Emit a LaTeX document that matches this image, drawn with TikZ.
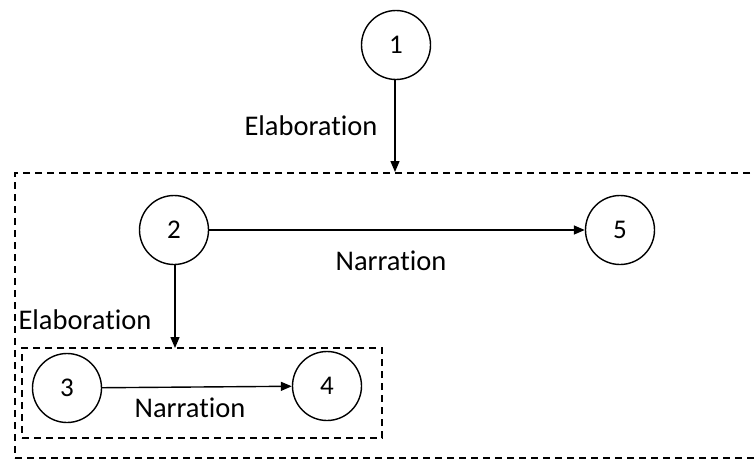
\documentclass[tikz,border=0pt]{standalone}
\usepackage{fontspec}
\setmainfont[Ligatures=NoCommon]{Carlito}
\usetikzlibrary{arrows.meta}
\tikzset{
  num/.style={draw, circle, line width=1.4pt, minimum size=69pt, inner sep=0pt, font=\fontsize{27}{30}\selectfont},
  lbl/.style={font=\fontsize{28.5}{32}\selectfont, inner sep=0pt},
  arr/.style={line width=1.4pt, -{Triangle[length=11pt,width=9pt]}},
  box/.style={draw, dashed, dash pattern=on 7pt off 5pt, line width=1.6pt, inner sep=0pt}
}
\begin{document}
\begin{tikzpicture}[x=1pt,y=-1pt]
\useasboundingbox (0,0) rectangle (755,460);
\clip (0,0) rectangle (755,460);
\node[box, minimum width=765pt, minimum height=285pt] (outer) at (397.5,315.5) {};
\node[box, minimum width=360pt, minimum height=90pt] (inner) at (202,393) {};
\node[num] (n1) at (396,45) {1};
\node[num] (n2) at (174,230) {2};
\node[num] (n5) at (620,230) {5};
\node[num] (n3) at (67,388) {3};
\node[num] (n4) at (327,386) {4};
\draw[arr] (n1.south -| 395,0) -- (395,172);
\draw[arr] (n2) -- (n5);
\draw[arr] (n2.south -| 175,0) -- (175,348);
\draw[arr] (n3) -- (n4);
\node[lbl] (e1) at (311,126) {Elaboration};
\node[lbl] (r1) at (391,261) {Narration};
\node[lbl] (e2) at (85,320) {Elaboration};
\node[lbl] (r2) at (190,408) {Narration};
\end{tikzpicture}
\end{document}
